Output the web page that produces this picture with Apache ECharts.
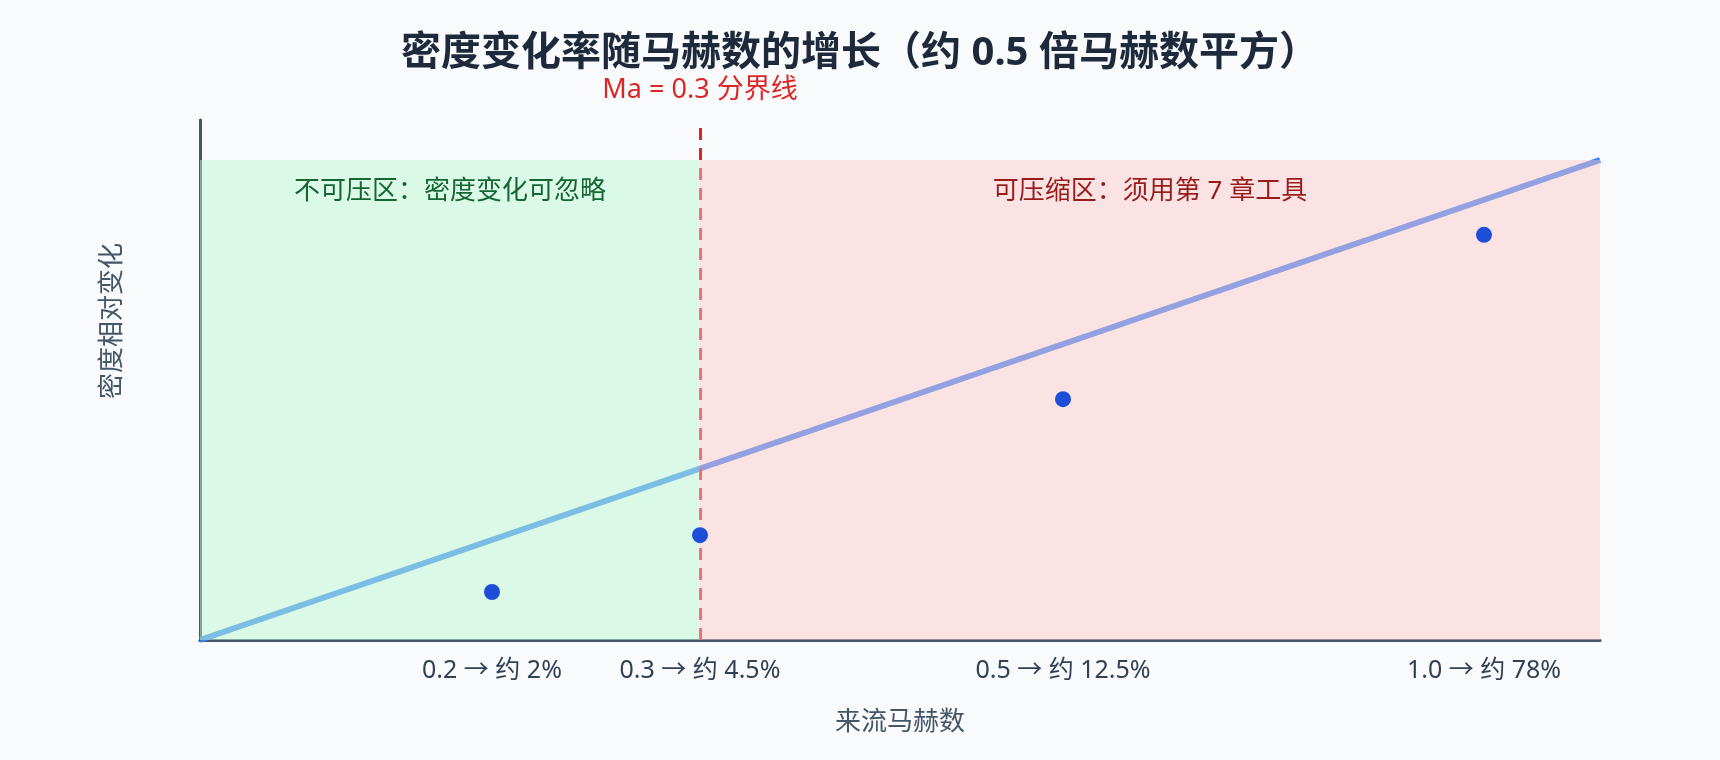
<!DOCTYPE html>
<html>
<head>
<meta charset="utf-8">
<script src="https://cdn.jsdelivr.net/npm/echarts@6/dist/echarts.min.js"></script>
<style>
html,body{margin:0;padding:0;background:#f8fafc;}
#chart{width:1720px;height:760px;}
</style>
</head>
<body>
<div id="chart"></div>
<script>
// ---- data ----
const titleText = '密度变化率随马赫数的增长（约 0.5 倍马赫数平方）';
const pointX = [2.92, 5.0, 8.63, 12.84];          // schematic positions of the Mach samples
const pointY = [1.2, 2.62, 6.02, 10.13];          // schematic relative density change
const tickLabels = ['0.2 → 约 2%', '0.3 → 约 4.5%', '0.5 → 约 12.5%', '1.0 → 约 78%'];
const trendX = [0, 14];
const trendY = [0, 12];
const boundaryX = 5.0;
const boundaryTop = 12.8;
const boundaryLabel = 'Ma = 0.3 分界线';
const zoneNames = ['不可压区：密度变化可忽略', '可压缩区：须用第 7 章工具'];
const zoneStart = [0, 5.0];
const zoneEnd = [5.0, 14];
const zoneTop = 12;
const xName = '来流马赫数';
const yName = '密度相对变化';

const FONT = "'Noto Sans', 'Noto Sans CJK SC', sans-serif";
const zoneFill = ['rgba(187,247,208,0.5)', 'rgba(254,200,200,0.45)'];
const zoneText = ['#166534', '#991b1b'];

const chart = echarts.init(document.getElementById('chart'), null, {renderer: 'canvas'});
chart.setOption({
  animation: false,
  backgroundColor: '#f8fafc',
  textStyle: {fontFamily: FONT},
  title: {
    text: titleText,
    left: 'center',
    top: 29,
    textStyle: {fontSize: 40, fontWeight: 'bold', color: '#1e293b', fontFamily: FONT}
  },
  grid: {left: 200, right: 120, top: 120, bottom: 120, containLabel: false},
  xAxis: {
    type: 'value',
    min: 0,
    max: 14,
    name: xName,
    nameLocation: 'middle',
    nameGap: 70,
    nameTextStyle: {fontSize: 26, color: '#475569', fontFamily: FONT},
    axisLine: {show: true, lineStyle: {color: '#475569', width: 3}},
    axisTick: {show: false},
    splitLine: {show: false},
    axisLabel: {
      customValues: pointX,
      margin: 18,
      fontSize: 25,
      color: '#334155',
      fontFamily: FONT,
      formatter: function (v) {
        const i = pointX.findIndex(function (x) { return Math.abs(x - v) < 1e-6; });
        return i >= 0 ? tickLabels[i] : '';
      }
    }
  },
  yAxis: {
    type: 'value',
    min: 0,
    max: 13,
    name: yName,
    nameLocation: 'middle',
    nameGap: 74,
    nameTextStyle: {fontSize: 26, color: '#475569', fontFamily: FONT, padding: [0, 0, 0, 118]},
    axisLine: {show: true, lineStyle: {color: '#475569', width: 3}},
    axisTick: {show: false},
    axisLabel: {show: false},
    splitLine: {show: false}
  },
  series: [
    {
      type: 'line',
      z: 2,
      data: trendX.map(function (x, i) { return [x, trendY[i]]; }),
      symbol: 'none',
      lineStyle: {color: '#3b82f6', width: 6},
      silent: true,
      markLine: {
        silent: true,
        z: 5,
        symbol: ['none', 'none'],
        lineStyle: {color: '#dc2626', width: 3, type: [12, 8]},
        label: {
          show: true,
          position: 'end',
          distance: 24,
          formatter: boundaryLabel,
          fontSize: 27,
          color: '#dc2626',
          fontFamily: FONT
        },
        data: [[{coord: [boundaryX, 0]}, {coord: [boundaryX, boundaryTop]}]]
      },
      markArea: {
        silent: true,
        z: 6,
        data: zoneNames.map(function (n, i) {
          return [
            {
              name: n,
              coord: [zoneStart[i], 0],
              itemStyle: {color: zoneFill[i]},
              label: {color: zoneText[i]}
            },
            {coord: [zoneEnd[i], zoneTop]}
          ];
        }),
        label: {
          show: true,
          position: 'insideTop',
          distance: 19,
          fontSize: 26,
          fontFamily: FONT
        }
      }
    },
    {
      type: 'scatter',
      z: 10,
      symbolSize: 16,
      itemStyle: {color: '#1d4ed8', opacity: 1},
      data: pointX.map(function (x, i) { return [x, pointY[i]]; })
    }
  ]
});
</script>
</body>
</html>
